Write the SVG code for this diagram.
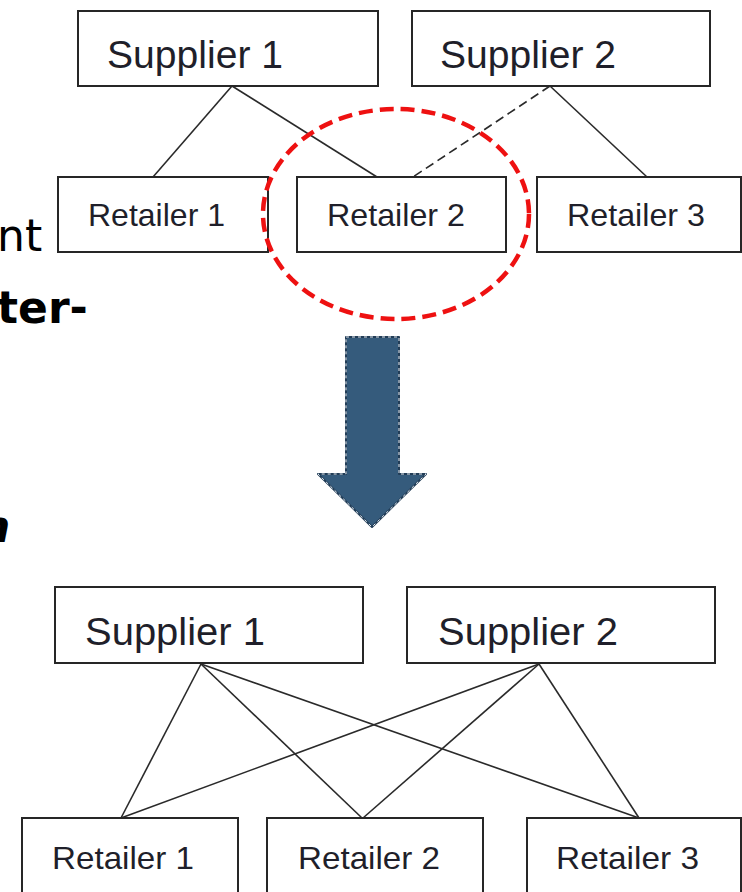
<svg xmlns="http://www.w3.org/2000/svg" width="742" height="892" viewBox="0 0 742 892">
<style>
.box{fill:#fff;stroke:#262626;stroke-width:2}
.lbl{font-family:"Liberation Sans",Arial,sans-serif;fill:#1f1f2a}
.sup{font-size:39px}
.ret{font-size:32px}
.ln{stroke:#2a2a2a;stroke-width:1.6;fill:none}
.side{font-family:"DejaVu Sans",Verdana,sans-serif;font-size:44px;fill:#000}
</style>
<rect width="742" height="892" fill="#fff"/>
<g id="side-text">
<text class="side" x="-3" y="251">nt</text>
<text class="side" x="-3" y="323" font-weight="bold">ter-</text>
<text class="side" x="-21" y="542" font-weight="bold" font-style="italic">n</text>
</g>
<g id="connectors">
<line class="ln" x1="232" y1="86" x2="153" y2="177"/>
<line class="ln" x1="232" y1="86" x2="377" y2="177"/>
<line class="ln" x1="550" y1="86" x2="413" y2="177" stroke-dasharray="9 5"/>
<line class="ln" x1="550" y1="86" x2="647" y2="177"/>
<line class="ln" x1="201" y1="664" x2="121" y2="818"/>
<line class="ln" x1="201" y1="664" x2="362" y2="818"/>
<line class="ln" x1="201" y1="664" x2="639" y2="818"/>
<line class="ln" x1="539" y1="664" x2="121" y2="818"/>
<line class="ln" x1="539" y1="664" x2="363" y2="818"/>
<line class="ln" x1="539" y1="664" x2="639" y2="818"/>
</g>
<g id="top-supplier-1"><rect class="box" x="78" y="11" width="300" height="75"/><text class="lbl sup" x="107" y="68" textLength="176" lengthAdjust="spacingAndGlyphs">Supplier 1</text></g>
<g id="top-supplier-2"><rect class="box" x="412" y="11" width="298" height="75"/><text class="lbl sup" x="440" y="68" textLength="176" lengthAdjust="spacingAndGlyphs">Supplier 2</text></g>
<g id="top-retailer-1"><rect class="box" x="58" y="177" width="210" height="75"/><text class="lbl ret" x="88" y="226" textLength="137" lengthAdjust="spacingAndGlyphs">Retailer 1</text></g>
<g id="top-retailer-2"><rect class="box" x="297" y="177" width="209" height="75"/><text class="lbl ret" x="327" y="226" textLength="138" lengthAdjust="spacingAndGlyphs">Retailer 2</text></g>
<g id="top-retailer-3"><rect class="box" x="537" y="177" width="204" height="75"/><text class="lbl ret" x="567" y="226" textLength="138" lengthAdjust="spacingAndGlyphs">Retailer 3</text></g>
<g id="highlight"><ellipse cx="396" cy="214" rx="133" ry="105" fill="none" stroke="#ee1111" stroke-width="4.5" stroke-dasharray="14 7"/></g>
<g id="arrow">
<polygon points="346,337 399,337 399,474 426,474 372,527 318,474 346,474" fill="#355b7c" stroke="#223d57" stroke-width="2" stroke-linejoin="round"/>
<polygon points="346,337 399,337 399,474 426,474 372,527 318,474 346,474" fill="none" stroke="#e8eef4" stroke-width="1" stroke-dasharray="3 3"/>
</g>
<g id="bottom-supplier-1"><rect class="box" x="55" y="587" width="308" height="76"/><text class="lbl sup" x="85" y="645" textLength="180" lengthAdjust="spacingAndGlyphs">Supplier 1</text></g>
<g id="bottom-supplier-2"><rect class="box" x="407" y="587" width="308" height="76"/><text class="lbl sup" x="438" y="645" textLength="180" lengthAdjust="spacingAndGlyphs">Supplier 2</text></g>
<g id="bottom-retailer-1"><rect class="box" x="22" y="818" width="216" height="90"/><text class="lbl ret" x="52" y="869" textLength="142" lengthAdjust="spacingAndGlyphs">Retailer 1</text></g>
<g id="bottom-retailer-2"><rect class="box" x="267" y="818" width="216" height="90"/><text class="lbl ret" x="298" y="869" textLength="142" lengthAdjust="spacingAndGlyphs">Retailer 2</text></g>
<g id="bottom-retailer-3"><rect class="box" x="527" y="818" width="214" height="90"/><text class="lbl ret" x="556" y="869" textLength="143" lengthAdjust="spacingAndGlyphs">Retailer 3</text></g>
</svg>
